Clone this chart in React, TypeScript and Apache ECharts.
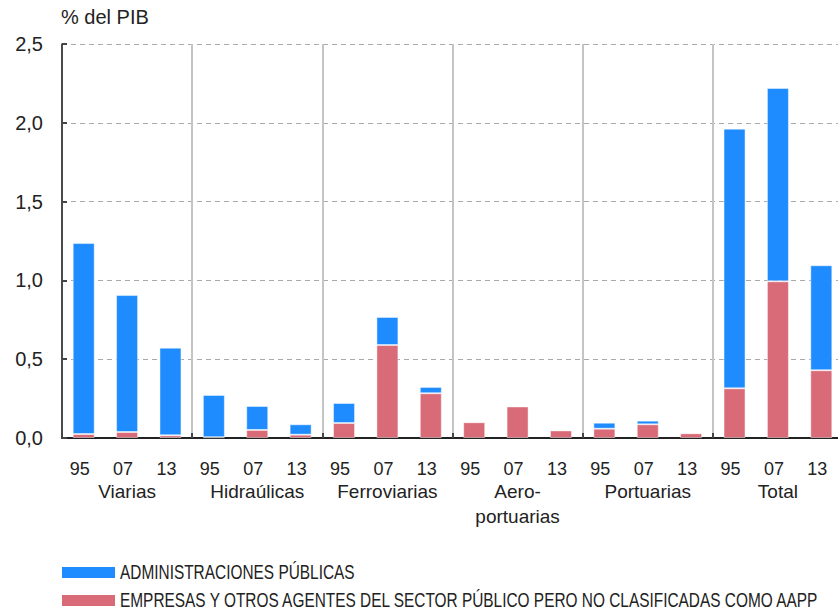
import React, { useEffect, useRef } from "react";
import * as echarts from "echarts";

const years = ["95", "07", "13", "95", "07", "13", "95", "07", "13", "95", "07", "13", "95", "07", "13", "95", "07", "13"];
const groups = ["Viarias", "Hidraúlicas", "Ferroviarias", "Aero-\nportuarias", "Portuarias", "Total"];
const empresas = [0.025, 0.038, 0.017, 0.005, 0.051, 0.021, 0.095, 0.59, 0.284, 0.1, 0.2, 0.048, 0.059, 0.087, 0.03, 0.315, 0.994, 0.43];
const administraciones = [1.212, 0.869, 0.556, 0.268, 0.152, 0.066, 0.127, 0.178, 0.04, 0.005, 0.005, 0.005, 0.038, 0.023, 0.004, 1.648, 1.227, 0.666];
const yTicks = { min: 0, max: 2.5, interval: 0.5 };
const seriesNames = ["ADMINISTRACIONES PÚBLICAS", "EMPRESAS Y OTROS AGENTES DEL SECTOR PÚBLICO PERO NO CLASIFICADAS COMO AAPP"];
const colors = ["#1E8CFF", "#D96B78"];

const FONT = "'Liberation Sans', Arial, sans-serif";

export default function App() {
  const ref = useRef<HTMLDivElement>(null);
  useEffect(() => {
    document.body.style.margin = "0";
    const chart = echarts.init(ref.current!, undefined, { renderer: "svg" });
    const legendItems = seriesNames.map((name, i) => ({
      type: "group",
      x: 62,
      y: 567 + i * 28,
      children: [
        { type: "rect", shape: { x: 0, y: 0, width: 53, height: 11 }, style: { fill: colors[i] } },
        {
          type: "text",
          x: 58,
          y: 5.5,
          scaleX: 0.771,
          style: { text: name, fontFamily: FONT, fontSize: 20, fill: "#222", verticalAlign: "middle", align: "left" },
        },
      ],
    }));
    chart.setOption({
      animation: false,
      textStyle: { fontFamily: FONT },
      grid: { left: 62, top: 44, height: 394, width: 781, containLabel: false },
      graphic: [
        { type: "text", left: 61, top: 7, style: { text: "% del PIB", fontFamily: FONT, fontSize: 20, fill: "#222" } },
        ...legendItems,
      ],
      xAxis: [
        {
          type: "category",
          data: years,
          axisLine: { show: true, lineStyle: { color: "#222", width: 2 } },
          axisTick: { show: false },
          axisLabel: { interval: 0, color: "#222", fontSize: 18, margin: 22, fontFamily: FONT, padding: [0, 8, 0, 0] },
        },
        {
          type: "category",
          data: groups,
          position: "bottom",
          axisLine: { show: false },
          axisTick: { show: true, interval: 0, inside: true, length: 5, lineStyle: { color: "#444", width: 2 } },
          splitLine: { show: true, interval: 0, lineStyle: { color: "#c4c4c4", width: 2 } },
          axisLabel: { interval: 0, color: "#222", fontSize: 19, margin: 41, lineHeight: 25, fontFamily: FONT },
        },
      ],
      yAxis: {
        type: "value",
        min: yTicks.min,
        max: yTicks.max,
        interval: yTicks.interval,
        axisLine: { show: true, lineStyle: { color: "#222", width: 1.5 } },
        axisTick: { show: true, inside: true, length: 5, lineStyle: { color: "#444", width: 2 } },
        splitLine: { show: true, lineStyle: { color: "#aaa", type: [5, 4], width: 1 } },
        axisLabel: {
          color: "#222",
          fontSize: 20,
          margin: 19,
          fontFamily: FONT,
          formatter: (v: number) => v.toFixed(1).replace(".", ","),
        },
      },
      series: [
        {
          name: seriesNames[1],
          type: "bar",
          stack: "t",
          barWidth: 22,
          data: empresas,
          itemStyle: { color: colors[1], borderColor: "rgba(255,255,255,0.45)", borderWidth: 1 },
        },
        {
          name: seriesNames[0],
          type: "bar",
          stack: "t",
          barWidth: 22,
          data: administraciones,
          itemStyle: { color: colors[0], borderColor: "rgba(255,255,255,0.45)", borderWidth: 1 },
        },
      ],
    });
    return () => chart.dispose();
  }, []);
  return (
    <div style={{ width: 838, height: 610, overflow: "hidden" }}>
      <div ref={ref} style={{ width: 848, height: 610 }} />
    </div>
  );
}
